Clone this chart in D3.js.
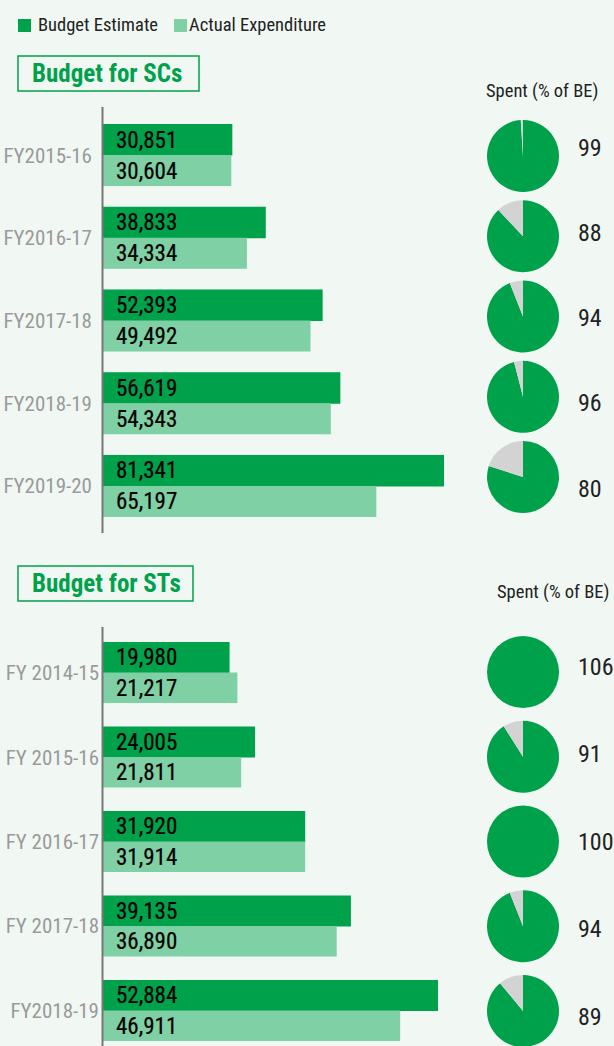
<!DOCTYPE html>
<html>
<head>
<meta charset="utf-8">
<script src="https://cdn.jsdelivr.net/npm/d3@7"></script>
<style>
  html, body { margin: 0; padding: 0; background: #f1f8f4; }
  svg { display: block; }
  text { font-family: "Liberation Sans Narrow", "Roboto Condensed", "Arial Narrow", Roboto, sans-serif; }
</style>
</head>
<body>
<svg id="chart" width="614" height="1046"></svg>
<script>
// --- data ---
const scYears = ["FY2015-16", "FY2016-17", "FY2017-18", "FY2018-19", "FY2019-20"];
const scBE = [30851, 38833, 52393, 56619, 81341];
const scAE = [30604, 34334, 49492, 54343, 65197];
const scSpent = [99, 88, 94, 96, 80];

const stYears = ["FY 2014-15", "FY 2015-16", "FY 2016-17", "FY 2017-18", "FY2018-19"];
const stBE = [19980, 24005, 31920, 39135, 52884];
const stAE = [21217, 21811, 31914, 36890, 46911];
const stSpent = [106, 91, 100, 94, 89];

const seriesNames = ["Budget Estimate", "Actual Expenditure"];

// --- colours ---
const dark = "#00a14b";
const light = "#80d0a5";
const grey = "#d3d3d3";

const svg = d3.select("#chart");
const fmt = d3.format(",");

// legend
const legend = svg.append("g");
[[18, 38, dark], [174, 189, light]].forEach(([sx, tx, c], i) => {
  legend.append("rect").attr("x", sx).attr("y", 19).attr("width", 13).attr("height", 13).attr("fill", c);
  legend.append("text").attr("x", tx).attr("y", 31).attr("font-size", 18.5).attr("fill", "#222")
    .text(seriesNames[i]);
});

function section(opts) {
  const { years, be, ae, spent, title, boxTop, boxW, xMax, bandRange, padInner,
          pieRange, numRange, spentY, spentX, labelX, axisTop, axisBottom } = opts;
  const g = svg.append("g");

  // title box
  g.append("rect")
    .attr("x", 18).attr("y", boxTop).attr("width", boxW).attr("height", 35)
    .attr("fill", "none").attr("stroke", dark).attr("stroke-width", 1.5);
  g.append("text")
    .attr("x", 32).attr("y", boxTop + 26)
    .attr("font-size", 25).attr("font-weight", "bold").attr("fill", dark)
    .text(title);

  // spent header
  g.append("text")
    .attr("x", spentX).attr("y", spentY).attr("font-size", 18.5).attr("fill", "#222")
    .text("Spent (% of BE)");

  const x = d3.scaleLinear().domain([0, d3.max(be.concat(ae))]).range([103, xMax]);
  const y = d3.scaleBand().domain(years).range(bandRange).paddingInner(padInner).paddingOuter(0);
  const half = y.bandwidth() / 2;

  // bars
  years.forEach((yr, i) => {
    [[be[i], dark, 0], [ae[i], light, half]].forEach(([v, c, off]) => {
      g.append("rect")
        .attr("x", x(0)).attr("y", y(yr) + off)
        .attr("width", x(v) - x(0)).attr("height", half + (off ? 0 : 0.5))
        .attr("fill", c);
      g.append("text")
        .attr("x", x(0) + 13).attr("y", y(yr) + off + half / 2 + 8)
        .attr("font-size", 23).attr("fill", "#000")
        .attr("stroke", "#000").attr("stroke-width", 0.2)
        .text(fmt(v));
    });
    g.append("text")
      .attr("x", labelX).attr("y", y(yr) + half + 7.5)
      .attr("text-anchor", "end").attr("font-size", 21).attr("fill", "#9a9a9a")
      .text(yr);
  });

  // axis line
  g.append("line")
    .attr("x1", 102.5).attr("x2", 102.5).attr("y1", axisTop).attr("y2", axisBottom)
    .attr("stroke", "#777").attr("stroke-width", 2);

  // pies
  const py = d3.scalePoint().domain(years).range(pieRange);
  const ny = d3.scalePoint().domain(years).range(numRange);
  const arc = d3.arc().innerRadius(0).outerRadius(36);
  years.forEach((yr, i) => {
    const p = Math.min(spent[i], 100) / 100;
    const pg = g.append("g").attr("transform", `translate(523,${py(yr)})`);
    pg.append("path").attr("d", arc({ startAngle: 0, endAngle: p * 2 * Math.PI })).attr("fill", dark);
    if (p < 1)
      pg.append("path").attr("d", arc({ startAngle: p * 2 * Math.PI, endAngle: 2 * Math.PI })).attr("fill", grey);
    g.append("text")
      .attr("x", 578).attr("y", ny(yr) + 8.5)
      .attr("font-size", 24).attr("fill", "#222")
      .text(spent[i]);
  });
}

section({
  years: scYears, be: scBE, ae: scAE, spent: scSpent,
  title: "Budget for SCs", boxTop: 56, boxW: 181, xMax: 444,
  bandRange: [124, 517], padInner: 0.25,
  pieRange: [156, 477], numRange: [147, 488],
  spentY: 97, spentX: 486, labelX: 92, axisTop: 107, axisBottom: 533
});

section({
  years: stYears, be: stBE, ae: stAE, spent: stSpent,
  title: "Budget for STs", boxTop: 566, boxW: 175, xMax: 438,
  bandRange: [642, 1041], padInner: 0.278,
  pieRange: [672, 1011], numRange: [666, 1016],
  spentY: 598, spentX: 497, labelX: 99, axisTop: 627, axisBottom: 1046
});
</script>
</body>
</html>
